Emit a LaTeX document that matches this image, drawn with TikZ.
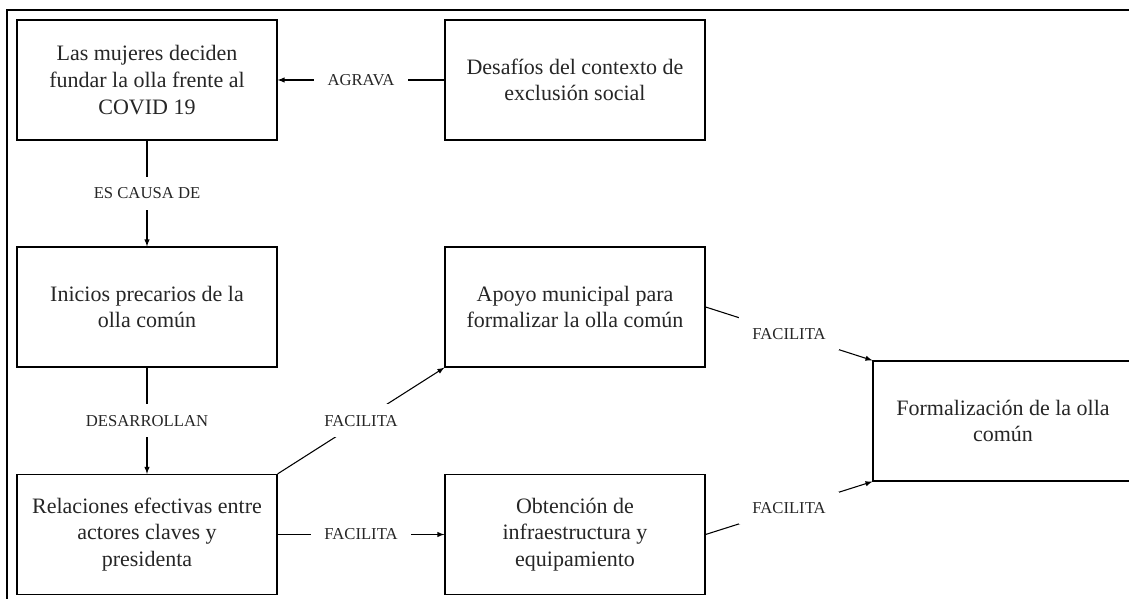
\documentclass[tikz,border=0pt]{standalone}
\usepackage{fontspec}
\setmainfont{Liberation Serif}
\usetikzlibrary{positioning, arrows.meta, calc}

\begin{document}
\begin{tikzpicture}[>=latex, line width=0.8pt, x=0.75pt, y=0.75pt,
    caja/.style={draw, fill=white, line width=0.9pt, minimum width=195pt, minimum height=90pt,
        align=center, font=\fontsize{16.5}{20}\selectfont, text=black!85},
    etiqueta/.style={fill=white, inner xsep=10pt, inner ysep=8pt,
        font=\fontsize{12.5}{14}\selectfont, text=black!85}]

\useasboundingbox (0,0) rectangle (1129,599);
\clip (0,0) rectangle (1129,599);

% Marco
\draw[line width=1.5pt] (7,0) |- (1129,589);

% Cajas (columnas 147, 575, 1003)
\node[caja] (mujeres) at (147,519) {Las mujeres deciden\\fundar la olla frente al\\COVID 19};
\node[caja] (desafios) at (575,519) {Desafíos del contexto de\\exclusión social};
\node[caja] (inicios) at (147,292) {Inicios precarios de la\\olla común};
\node[caja] (apoyo) at (575,292) {Apoyo municipal para\\formalizar la olla común};
\node[caja] (relaciones) at (147,64.5) {Relaciones efectivas entre\\actores claves y\\presidenta};
\node[caja] (obtencion) at (575,64.5) {Obtención de\\infraestructura y\\equipamiento};
\node[caja] (formal) at (1003,178) {Formalización de la olla\\común};

% Conexiones
\draw[->] (desafios.west) -- node[etiqueta] {AGRAVA} (mujeres.east);
\draw[->] (mujeres.south) -- node[etiqueta] {ES CAUSA DE} (inicios.north);
\draw[->] (inicios.south) -- node[etiqueta] {DESARROLLAN} (relaciones.north);
\draw[->] (relaciones.north east) -- node[etiqueta] {FACILITA} (apoyo.south west);
\draw[->] (relaciones.east) -- node[etiqueta] {FACILITA} (obtencion.west);

% Hacia la formalización
\draw[->] (apoyo.east) -- node[etiqueta] {FACILITA} (formal.north west);
\draw[->] (obtencion.east) -- node[etiqueta] {FACILITA} (formal.south west);

\end{tikzpicture}
\end{document}
